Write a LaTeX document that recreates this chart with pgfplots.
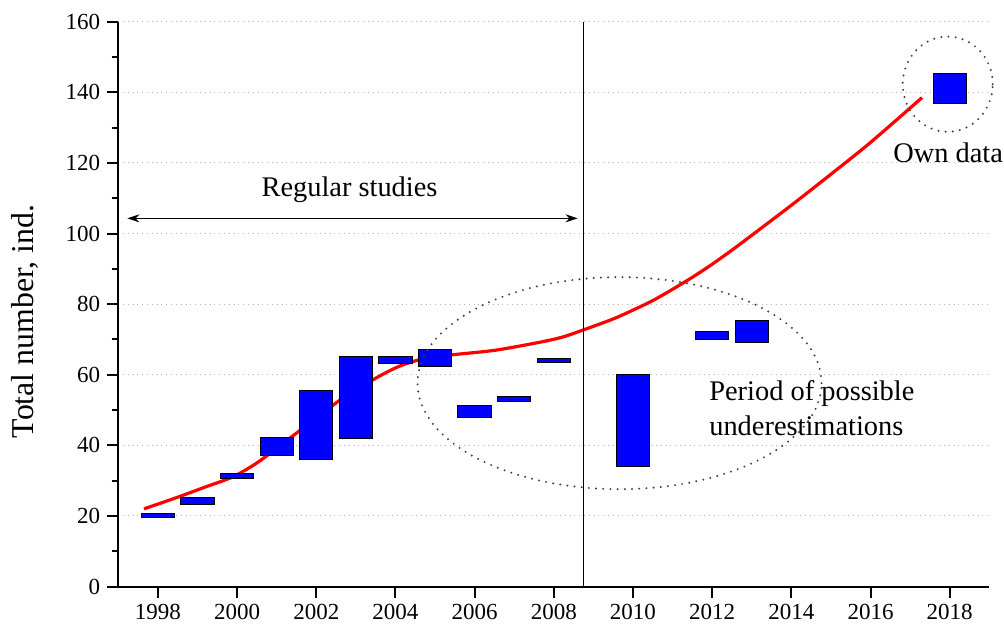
\documentclass[border=0pt]{standalone}
\usepackage{fontspec}
\setmainfont{Liberation Serif}
\usepackage{pgfplots}
\usepackage{pgfplotstable}
\pgfplotsset{compat=1.18}
\usetikzlibrary{arrows.meta}

% year, lower and upper bound of the estimate
\pgfplotstableread{
year lo hi
1998 19.5 20.8
1999 23.2 25.3
2000 30.5 31.9
2001 37.1 42.3
2002 36.0 55.4
2003 42.0 65.2
2004 63.1 65.2
2005 62.2 67.1
2006 47.9 51.3
2007 52.4 53.7
2008 63.4 64.6
2010 33.9 60.2
2012 69.9 72.2
2013 69.1 75.3
2018 136.7 145.2
}\bars

\tikzset{dots/.style={black!75, line width=1.1pt, line cap=round, dash pattern=on 0pt off 3.6pt}}

\begin{document}
\begin{tikzpicture}
\begin{axis}[
  scale only axis, width=435.5pt, height=282.4pt,
  xmin=1997, xmax=2019, ymin=0, ymax=160,
  axis lines=left, axis line style={-, line width=1pt},
  tick align=outside, major tick length=5.5pt, minor tick length=3.3pt,
  tick style={black, line width=1pt},
  xtick={1998,2000,...,2018}, minor x tick num=1,
  xticklabels={1998,2000,2002,2004,2006,2008,2010,2012,2014,2016,2018},
  ytick={0,20,...,160}, minor y tick num=1,
  yticklabels={0,20,40,60,80,100,120,140,160},
  tick label style={font=\rmfamily\fontsize{11.5}{13}\selectfont},
  ymajorgrids, grid style={gray!60, dotted, line width=0.5pt},
  ylabel={Total number, ind.},
  ylabel style={at={(axis description cs:-0.107,0.469)}, anchor=center,
    font=\fontsize{15.9}{18}\selectfont},
  clip=false,
]
% fitted trend
\addplot[red, line width=1.6pt, smooth, no marks] coordinates {
  (1997.65,22) (1998.5,25.3) (1999.2,28.2) (1999.9,31.1) (2000.5,35.0)
  (2001,39.2) (2001.6,44.3) (2002.6,52.8) (2003.5,59.0) (2004.1,62.4)
  (2004.7,64.5) (2005.4,65.6) (2006.5,66.9) (2007.6,69.1) (2008.2,70.6)
  (2008.75,72.7) (2009.5,75.8) (2010,78.3) (2010.5,81.0) (2011,84.2)
  (2011.5,87.6) (2012,91.3) (2012.5,95.3) (2013,99.5) (2014,108)
  (2015,116.8) (2016,125.8) (2017.3,138.5)
};
% floating bars: invisible base + visible range
\addplot[ybar, bar width=0.84, bar shift=0pt, stack plots=y, draw=none, fill=none]
  table[x=year, y=lo] {\bars};
\addplot[ybar, bar width=0.84, bar shift=0pt, stack plots=y, draw=black, line width=0.5pt, fill=blue]
  table[x=year, y expr=\thisrow{hi}-\thisrow{lo}] {\bars};
% end of regular studies
\addplot[black, line width=0.7pt, no marks, stack plots=false] coordinates {(2008.75,0) (2008.75,160)};

\draw[{Stealth[length=6pt,width=4pt]}-{Stealth[length=6pt,width=4pt]}, line width=0.6pt]
  (axis cs:1997.23,104.3) -- (axis cs:2008.6,104.3);
\node[font=\fontsize{14.2}{17}\selectfont] at (axis cs:2002.84,112.3) {Regular studies};
\draw[dots] (axis cs:2009.66,57.6) ellipse [x radius=101pt, y radius=53pt];
\draw[dots] (axis cs:2017.95,142.3) ellipse [x radius=22.5pt, y radius=23.8pt];
\node[font=\fontsize{14.2}{17}\selectfont] at (axis cs:2017.96,122.8) {Own data};
\node[anchor=west, align=left, font=\fontsize{14.2}{17.5}\selectfont] at (axis cs:2011.75,50.6)
  {Period of possible\\underestimations};
\end{axis}
\pgfresetboundingbox
\path[use as bounding box] ([xshift=-59.15pt, yshift=-20.75pt]current axis.south west) rectangle ++(502pt,314pt);
\end{tikzpicture}
\end{document}
